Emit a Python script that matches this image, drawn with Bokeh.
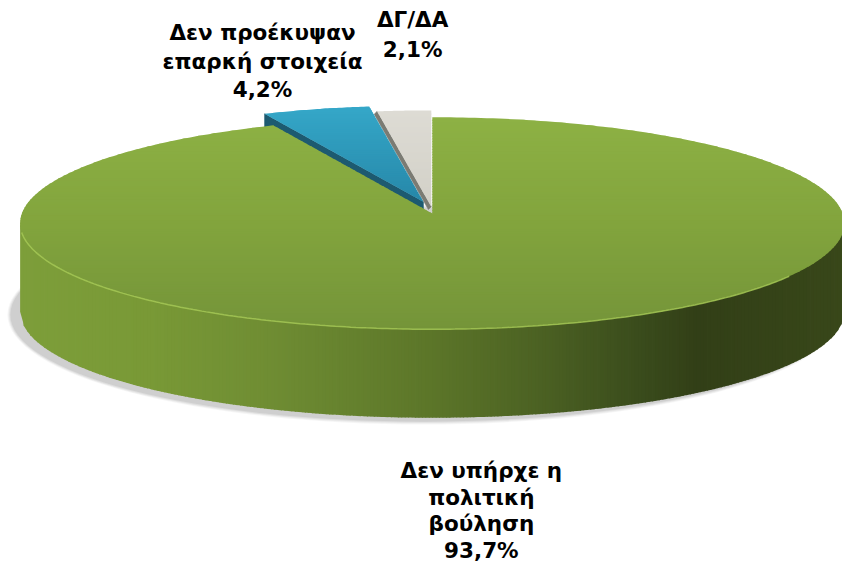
import numpy as np
from bokeh.plotting import figure
from bokeh.models import Range1d
from bokeh.core.properties import value
from bokeh.embed import file_html
from bokeh.resources import INLINE

# ---------------- data ----------------
categories = ["Δεν υπήρχε η πολιτική βούληση", "Δεν προέκυψαν επαρκή στοιχεία", "ΔΓ/ΔΑ"]
values = [93.7, 4.2, 2.1]
label_lines = [
    ["Δεν υπήρχε η", "πολιτική", "βούληση", "93,7%"],
    ["Δεν προέκυψαν", "επαρκή στοιχεία", "4,2%"],
    ["ΔΓ/ΔΑ", "2,1%"],
]

# ---------------- layout / style (in reference-page units) ----------------
CX, CY = 440.0, 229.0      # centre of the top ellipse
AX, BY = 420.0, 109.0      # semi-axes of the top ellipse
APEX = (440.0, 219.0)      # projected centre of the pie
DEPTH = 91.0               # thickness of the pie
explode = [(0, 0), (-9, -12), (-1, -7)]
label_pos = [(490, 483, 27.5), (267, 33, 29.5), (420, 20, 30)]
FONT = "DejaVu Sans"


def hex2rgb(h):
    h = h.lstrip("#")
    return np.array([int(h[i:i + 2], 16) for i in (0, 2, 4)], dtype=float)


def rgb2hex(c):
    c = np.clip(np.round(c), 0, 255).astype(int)
    return "#%02x%02x%02x" % tuple(c)


def interp_color(stops, t):
    pos = [s[0] for s in stops]
    cols = [hex2rgb(s[1]) for s in stops]
    if t <= pos[0]:
        return rgb2hex(cols[0])
    if t >= pos[-1]:
        return rgb2hex(cols[-1])
    for i in range(len(pos) - 1):
        if pos[i] <= t <= pos[i + 1]:
            f = (t - pos[i]) / (pos[i + 1] - pos[i])
            return rgb2hex(cols[i] * (1 - f) + cols[i + 1] * f)


def clip_half(pts, keep, ycut):
    out = []
    n = len(pts)
    for i in range(n):
        P, Q = pts[i], pts[(i + 1) % n]
        inP, inQ = keep(P), keep(Q)
        if inP:
            out.append(P)
        if inP != inQ:
            t = (ycut - P[1]) / (Q[1] - P[1])
            out.append((P[0] + t * (Q[0] - P[0]), ycut))
    return out


def band(poly, y0, y1):
    pts = clip_half(poly, lambda p: p[1] >= y0, y0)
    if len(pts) < 3:
        return []
    pts = clip_half(pts, lambda p: p[1] <= y1, y1)
    return pts


def gradient_v(p, poly, stops, n=60):
    ys = [q[1] for q in poly]
    ymin, ymax = min(ys), max(ys)
    edges = np.linspace(ymin, ymax, n + 1)
    xs_l, ys_l, cols = [], [], []
    for i in range(n):
        y0, y1 = edges[i], min(edges[i + 1] + 0.8, ymax)
        pts = band(poly, y0, y1)
        if len(pts) < 3:
            continue
        xs_l.append([q[0] for q in pts])
        ys_l.append([q[1] for q in pts])
        cols.append(interp_color(stops, (edges[i] + edges[i + 1]) / 2))
    p.patches(xs_l, ys_l, fill_color=cols, line_color=None)


def ell(theta_deg):
    t = np.radians(theta_deg)
    return CX + AX * np.cos(t), CY - BY * np.sin(t)


# slice angles: start at 12 o'clock and go clockwise
fr = np.array(values) / sum(values)
angles = []
a0 = 90.0
for f in fr:
    a1 = a0 - f * 360.0
    angles.append((a1, a0))   # counter-clockwise from a1 to a0
    a0 = a1
green_a = (angles[0][0] % 360, angles[0][0] % 360 + fr[0] * 360)


def slice_poly(a_lo, a_hi, off, n):
    th = np.linspace(a_lo, a_hi, n)
    pts = [(APEX[0] + off[0], APEX[1] + off[1])]
    for t in th:
        x, y = ell(t)
        pts.append((x + off[0], y + off[1]))
    return pts


p = figure(width=842, height=568, x_range=Range1d(0, 858), y_range=Range1d(584, 0),
           output_backend="svg", toolbar_location=None, min_border=0,
           x_axis_type=None, y_axis_type=None)
p.grid.visible = False
p.outline_line_color = None
p.background_fill_color = "white"
p.border_fill_color = "white"

# ---- soft shadow under the pie (mostly lower left) ----
for k, al in enumerate([0.035, 0.045, 0.055, 0.065]):
    grow = 8 - 2 * k
    p.ellipse(x=[CX - 9], y=[CY + DEPTH + 3], width=[2 * AX + grow], height=[2 * BY + grow],
              fill_color="#000000", fill_alpha=al, line_color=None)

# ---- back slices: visible radial faces ----
blue_lo, blue_hi = angles[1][0] % 360, angles[1][1] % 360
gray_lo, gray_hi = angles[2][0] % 360, angles[2][1] % 360
ox, oy = explode[1]
bx, by_ = ell(blue_hi)
ax_, ay_ = APEX[0] + ox, APEX[1] + oy
p.patch([ax_, bx + ox, bx + ox, ax_], [ay_, by_ + oy, by_ + oy + DEPTH, ay_ + DEPTH],
        fill_color="#1d5a70", line_color="#1d5a70", line_width=0.5)
ox, oy = explode[2]
gx, gy = ell(gray_hi)
ax2, ay2 = APEX[0] + ox, APEX[1] + oy
p.patch([ax2, gx + ox, gx + ox - 3, ax2 - 3], [ay2, gy + oy, gy + oy + 3, ay2 + 3],
        fill_color="#7b7b73", line_color="#7b7b73", line_width=0.5)

# ---- back slice tops ----
blue_poly = slice_poly(blue_lo, blue_hi, explode[1], 40)
gradient_v(p, blue_poly, [(100, "#36aacb"), (215, "#2585a6")], n=50)
gray_poly = slice_poly(gray_lo, gray_hi, explode[2], 30)
gradient_v(p, gray_poly, [(105, "#dedcd5"), (215, "#d2d0c7")], n=30)

# ---- green side wall ----
wall_stops = [(18, "#7d9e3a"), (150, "#799936"), (273, "#6f8d33"), (437, "#5c7629"),
              (546, "#4c6223"), (650, "#3a4c1c"), (710, "#323f17"), (858, "#384719")]


def ytop(x):
    u = np.clip((x - CX) / AX, -1, 1)
    return CY + BY * np.sqrt(1 - u * u)


xs_w, ys_w, cols_w = [], [], []
xe = np.linspace(CX - AX, CX + AX, 241)
for i in range(len(xe) - 1):
    x0, x1 = xe[i], min(xe[i + 1] + 0.8, CX + AX)
    y0t, y1t = ytop(x0), ytop(x1)
    xs_w.append([x0, x1, x1, x0])
    ys_w.append([y0t - 1, y1t - 1, y1t + DEPTH, y0t + DEPTH])
    cols_w.append(interp_color(wall_stops, (xe[i] + xe[i + 1]) / 2))
p.patches(xs_w, ys_w, fill_color=cols_w, line_color=None)

# ---- green top ----
green_poly = slice_poly(green_a[0], green_a[1], explode[0], 400)
gradient_v(p, green_poly, [(120, "#8db144"), (230, "#82a43d"), (340, "#749439")], n=80)

# rim highlight on front edge
th = np.linspace(185, 330, 200)
rx = [ell(t)[0] for t in th]
ry = [ell(t)[1] for t in th]
p.line(rx, ry, line_color="#a8ca58", line_width=1.5, line_alpha=0.8)

# ---- labels ----
for lines, (lx, ly, step) in zip(label_lines, label_pos):
    xs = [lx] * len(lines)
    ys = [ly + k * step for k in range(len(lines))]
    p.text(xs, ys, text=lines, text_font=value(FONT), text_font_style="bold",
           text_font_size="21.5px", text_align="center", text_baseline="middle",
           text_color="#000000")

open("out.html", "w").write(file_html(p, INLINE))
